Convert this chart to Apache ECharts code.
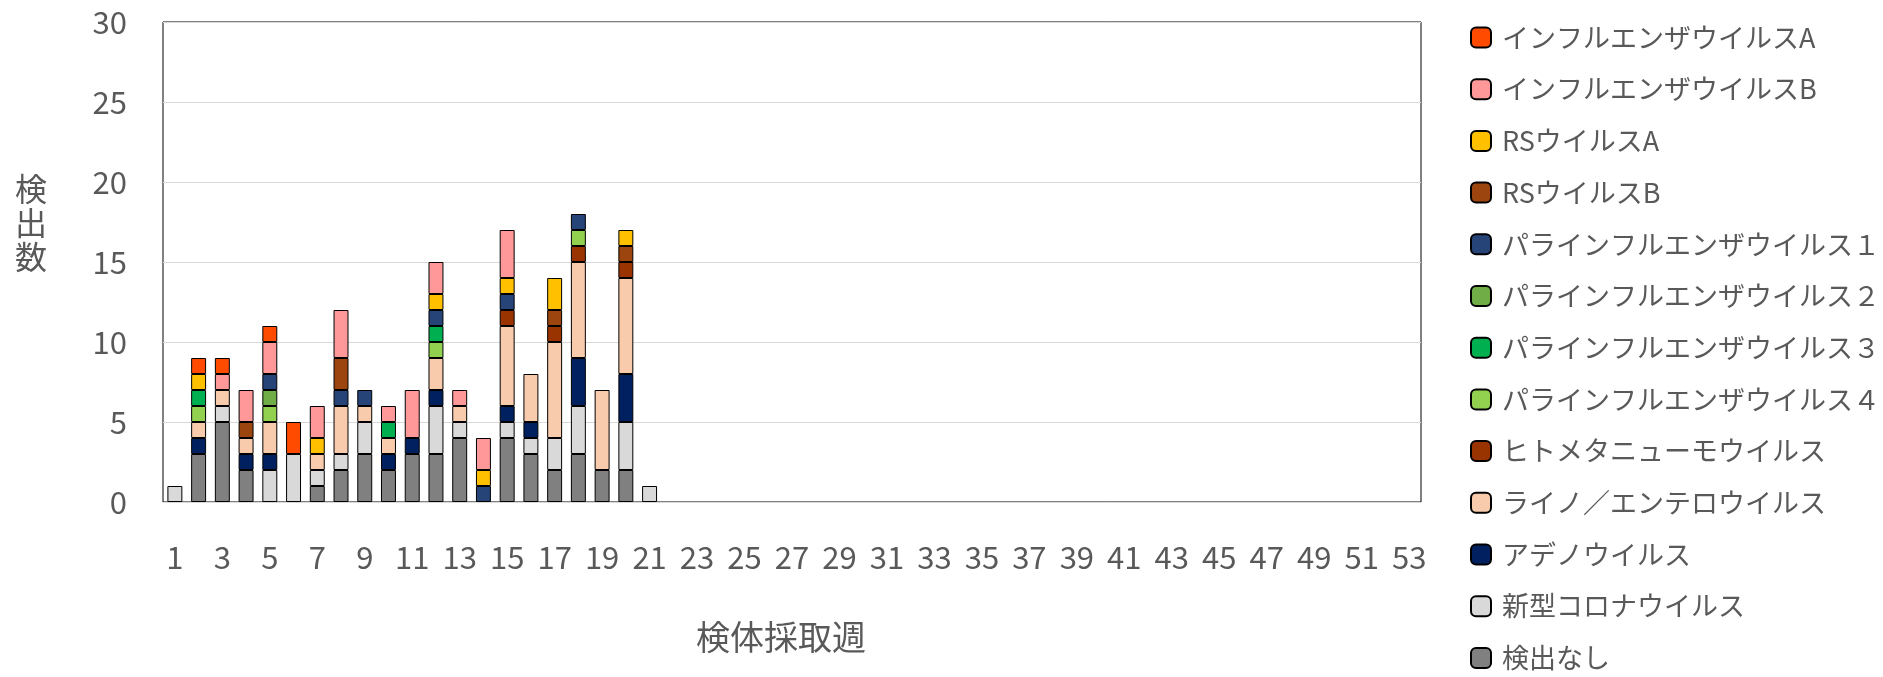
<!DOCTYPE html>
<html>
<head>
<meta charset="utf-8">
<script src="https://cdn.jsdelivr.net/npm/echarts@6/dist/echarts.min.js"></script>
<style>
  html, body { margin: 0; padding: 0; background: #fff; }
  #box { width: 1883px; height: 677px; }
</style>
</head>
<body>
<div id="box"></div>
<script>
// 週 1..53
let weeks = [];
for (let i = 1; i <= 53; i++) weeks.push(String(i));

// 週1〜21の検出数（下から順に積み上げ）
let none    = [0,3,5,2,0,0,1,2,3,2,3,3,4,0,4,3,2,3,2,2,0];
let corona  = [1,0,1,0,2,3,1,1,2,0,0,3,1,0,1,1,2,3,0,3,1];
let adeno   = [0,1,0,1,1,0,0,0,0,1,1,1,0,0,1,1,0,3,0,3,0];
let rhino   = [0,1,1,1,2,0,1,3,1,1,0,2,1,0,5,3,6,6,5,6,0];
let hmpv    = [0,0,0,0,0,0,0,0,0,0,0,0,0,0,1,0,1,1,0,1,0];
let para4   = [0,1,0,0,1,0,0,0,0,0,0,1,0,0,0,0,0,1,0,0,0];
let para3   = [0,1,0,0,0,0,0,0,0,1,0,1,0,0,0,0,0,0,0,0,0];
let para2   = [0,0,0,0,1,0,0,0,0,0,0,0,0,0,0,0,0,0,0,0,0];
let para1   = [0,0,0,0,1,0,0,1,1,0,0,1,0,1,1,0,0,1,0,0,0];
let rsB     = [0,0,0,1,0,0,0,2,0,0,0,0,0,0,0,0,1,0,0,1,0];
let rsA     = [0,1,0,0,0,0,1,0,0,0,0,1,0,1,1,0,2,0,0,1,0];
let fluB    = [0,0,1,2,2,0,2,3,0,1,3,2,1,2,3,0,0,0,0,0,0];
let fluA    = [0,1,1,0,1,2,0,0,0,0,0,0,0,0,0,0,0,0,0,0,0];

let seriesList = [
  ['検出なし', none, '#808080'],
  ['新型コロナウイルス', corona, '#D9D9D9'],
  ['アデノウイルス', adeno, '#002060'],
  ['ライノ／エンテロウイルス', rhino, '#F8CBAD'],
  ['ヒトメタニューモウイルス', hmpv, '#993300'],
  ['パラインフルエンザウイルス４', para4, '#92D050'],
  ['パラインフルエンザウイルス３', para3, '#00B050'],
  ['パラインフルエンザウイルス２', para2, '#70AD47'],
  ['パラインフルエンザウイルス１', para1, '#264478'],
  ['RSウイルスB', rsB, '#9C450F'],
  ['RSウイルスA', rsA, '#FFC000'],
  ['インフルエンザウイルスB', fluB, '#FF9999'],
  ['インフルエンザウイルスA', fluA, '#FF4B00']
];

let legendNames = [
  'インフルエンザウイルスA','インフルエンザウイルスB','RSウイルスA','RSウイルスB',
  'パラインフルエンザウイルス１','パラインフルエンザウイルス２','パラインフルエンザウイルス３','パラインフルエンザウイルス４',
  'ヒトメタニューモウイルス','ライノ／エンテロウイルス','アデノウイルス','新型コロナウイルス','検出なし'
];

let font = '"Noto Sans CJK JP", "Noto Sans", sans-serif';
let textColor = '#595959';

let series = seriesList.map(s => ({
  name: s[0],
  type: 'bar',
  stack: 'total',
  barWidth: '63%',
  data: s[1].map(v => v || '-'),
  itemStyle: { color: s[2], borderColor: '#000', borderWidth: 1 }
}));

let chart = echarts.init(document.getElementById('box'));
chart.setOption({
  animation: false,
  backgroundColor: '#fff',
  textStyle: { fontFamily: font },
  grid: { left: 163, right: 462, top: 22, bottom: 175, show: true, borderColor: '#000', borderWidth: 1 },
  legend: {
    data: legendNames,
    orient: 'vertical',
    left: 1470,
    top: 24,
    padding: 0,
    itemWidth: 20,
    itemHeight: 20,
    itemGap: 24.7,
    textStyle: { fontSize: 27, color: textColor, fontFamily: font, padding: [0, 0, 0, 6] }
  },
  xAxis: {
    type: 'category',
    data: weeks,
    axisLine: { lineStyle: { color: '#D9D9D9', width: 1 } },
    axisTick: { show: false },
    axisLabel: { interval: 1, color: textColor, fontSize: 31, margin: 40, fontFamily: font }
  },
  yAxis: {
    type: 'value',
    min: 0,
    max: 30,
    interval: 5,
    axisLine: { show: false },
    axisTick: { show: false },
    splitLine: { lineStyle: { color: '#D9D9D9', width: 1 } },
    axisLabel: { color: textColor, fontSize: 31, margin: 36, fontFamily: font }
  },
  graphic: [
    { type: 'text', left: 15, top: 172, style: { text: '検\n出\n数', fill: textColor, fontSize: 32, lineHeight: 34, fontFamily: font } },
    { type: 'text', left: 696, top: 620, style: { text: '検体採取週', fill: textColor, fontSize: 34, fontFamily: font } }
  ],
  series: series
});
</script>
</body>
</html>
